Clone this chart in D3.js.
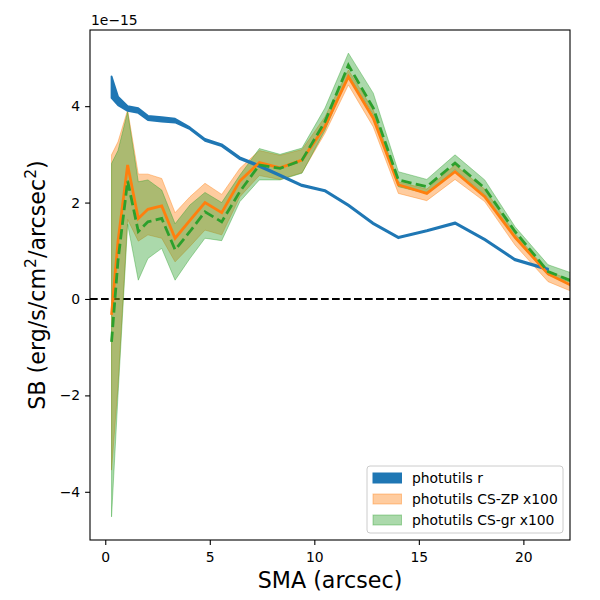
<!DOCTYPE html>
<html>
<head>
<meta charset="utf-8">
<script src="https://cdn.jsdelivr.net/npm/d3@7"></script>
<style>
  html, body { margin: 0; padding: 0; background: #fff; }
  svg { display: block; font-family: "DejaVu Sans", sans-serif; }
  .tick text { font-size: 13.9px; fill: #000; }
  .tick line { stroke: #000; stroke-width: 1.1; }
</style>
</head>
<body>
<svg id="chart" width="600" height="600"></svg>
<script>
// --- Data (SB in units of 1e-15) ---
const sma = [0.30, 0.61, 1.07, 1.58, 2.04, 2.70, 3.34, 4.05, 4.77, 5.57, 6.44, 7.37, 8.36, 9.41, 10.51, 11.63, 12.82, 14.02, 15.38, 16.73, 18.15, 19.60, 21.18, 22.90];

// photutils r (no point at the last sma)
const rLower = [4.17, 4.02, 3.90, 3.86, 3.71, 3.68, 3.66, 3.52, 3.28, 3.17, 2.90, 2.74, 2.55, 2.34, 2.23, 1.93, 1.55, 1.26, 1.40, 1.56, 1.22, 0.80, 0.60, null];
const rUpper = [4.62, 4.20, 4.00, 3.96, 3.80, 3.77, 3.74, 3.56, 3.32, 3.21, 2.94, 2.78, 2.58, 2.37, 2.26, 1.96, 1.58, 1.29, 1.43, 1.59, 1.25, 0.83, 0.63, null];

// photutils CS-ZP x100
const zpMid   = [-0.33, 1.20, 2.78, 1.67, 1.86, 1.93, 1.26, 1.63, 2.00, 1.79, 2.45, 2.83, 2.72, 2.88, 3.58, 4.61, 3.75, 2.37, 2.19, 2.64, 2.12, 1.28, 0.52, 0.15];
const zpUpper = [2.99, 3.26, 3.92, 2.59, 2.59, 2.50, 1.79, 2.12, 2.40, 2.17, 2.71, 3.08, 2.98, 3.10, 3.78, 4.75, 3.92, 2.43, 2.28, 2.78, 2.28, 1.36, 0.57, 0.30];
const zpLower = [-3.55, -1.80, 1.65, 1.20, 1.33, 1.26, 0.77, 1.09, 1.43, 1.33, 2.12, 2.56, 2.48, 2.62, 3.44, 4.44, 3.57, 2.19, 2.04, 2.48, 2.02, 1.12, 0.36, 0.05];

// photutils CS-gr x100
const grMid   = [-0.89, 0.80, 2.45, 1.40, 1.60, 1.67, 1.02, 1.40, 1.81, 1.60, 2.23, 2.78, 2.71, 2.88, 3.68, 4.85, 3.96, 2.47, 2.33, 2.82, 2.30, 1.40, 0.57, 0.27];
const grUpper = [2.81, 3.08, 3.88, 2.43, 2.47, 2.26, 1.56, 1.95, 2.21, 2.00, 2.57, 3.12, 3.00, 3.13, 3.96, 5.10, 4.27, 2.64, 2.48, 2.99, 2.47, 1.50, 0.71, 0.45];
const grLower = [-4.52, -2.00, 1.55, 0.39, 0.84, 1.05, 0.39, 0.84, 1.26, 1.21, 2.02, 2.47, 2.47, 2.61, 3.50, 4.65, 3.82, 2.33, 2.19, 2.68, 2.16, 1.26, 0.50, 0.25];

const xTicks = [0, 5, 10, 15, 20];
const yTicks = [-4, -2, 0, 2, 4];
const legendLabels = ["photutils r", "photutils CS-ZP x100", "photutils CS-gr x100"];

function drawChart() {
    // 1. Setup
    const svg = d3.select("#chart");
    const left = 90, right = 570, top = 30, bottom = 540;

    // 2. Scales
    const x = d3.scaleLinear().domain([-0.73, 22.23]).range([left, right]);
    const y = d3.scaleLinear().domain([-5.0, 5.58]).range([bottom, top]);

    svg.append("defs").append("clipPath").attr("id", "plot-clip")
        .append("rect").attr("x", left).attr("y", top).attr("width", right - left).attr("height", bottom - top);
    const plot = svg.append("g").attr("clip-path", "url(#plot-clip)");

    const rows = sma.map((s, i) => ({
        s, rLo: rLower[i], rHi: rUpper[i],
        zp: zpMid[i], zpLo: zpLower[i], zpHi: zpUpper[i],
        gr: grMid[i], grLo: grLower[i], grHi: grUpper[i]
    }));

    // 3. Zero line
    plot.append("line")
        .attr("x1", left).attr("x2", right).attr("y1", y(0)).attr("y2", y(0))
        .attr("stroke", "#000").attr("stroke-width", 2.08).attr("stroke-dasharray", "7.7,3.3");

    // 4. Bands
    const band = (lo, hi) => d3.area().x(d => x(d.s)).y0(d => y(d[lo])).y1(d => y(d[hi]));
    plot.append("path").datum(rows)
        .attr("d", band("zpLo", "zpHi"))
        .attr("fill", "#ff7f0e").attr("fill-opacity", 0.4)
        .attr("stroke", "#ff7f0e").attr("stroke-opacity", 0.4).attr("stroke-width", 1);
    plot.append("path").datum(rows)
        .attr("d", band("grLo", "grHi"))
        .attr("fill", "#2ca02c").attr("fill-opacity", 0.4)
        .attr("stroke", "#2ca02c").attr("stroke-opacity", 0.4).attr("stroke-width", 1);
    plot.append("path").datum(rows)
        .attr("d", band("rLo", "rHi").defined(d => d.rLo !== null))
        .attr("fill", "#1f77b4").attr("stroke", "#1f77b4").attr("stroke-width", 1.8)
        .attr("stroke-linejoin", "round");

    // 5. Lines
    plot.append("path").datum(rows)
        .attr("d", d3.line().x(d => x(d.s)).y(d => y(d.zp)))
        .attr("fill", "none").attr("stroke", "#ff7f0e").attr("stroke-width", 2.78);
    plot.append("path").datum(rows)
        .attr("d", d3.line().x(d => x(d.s)).y(d => y(d.gr)))
        .attr("fill", "none").attr("stroke", "#2ca02c").attr("stroke-width", 2.78)
        .attr("stroke-dasharray", "10.3,4.4");

    // 6. Axes
    const xAxis = svg.append("g").attr("transform", `translate(0,${bottom})`)
        .call(d3.axisBottom(x).tickValues(xTicks).tickFormat(d3.format("d")).tickSize(4.9).tickPadding(4.9));
    const yAxis = svg.append("g").attr("transform", `translate(${left},0)`)
        .call(d3.axisLeft(y).tickValues(yTicks).tickFormat(d3.format("d")).tickSize(4.9).tickPadding(4.9));
    xAxis.select(".domain").remove();
    yAxis.select(".domain").remove();
    xAxis.selectAll(".tick text").attr("font-family", "DejaVu Sans").attr("dy", "0.85em");
    yAxis.selectAll(".tick text").attr("font-family", "DejaVu Sans");

    svg.append("rect")
        .attr("x", left).attr("y", top).attr("width", right - left).attr("height", bottom - top)
        .attr("fill", "none").attr("stroke", "#000").attr("stroke-width", 1.1);

    // offset text
    svg.append("text").attr("x", left + 1).attr("y", 25)
        .attr("font-size", 13.9).text("1e\u221215");

    // 7. Axis labels
    svg.append("text").attr("x", (left + right) / 2).attr("y", 588)
        .attr("text-anchor", "middle").attr("font-size", 22.2).text("SMA (arcsec)");

    const yl = svg.append("text")
        .attr("transform", `translate(45,${(top + bottom) / 2}) rotate(-90)`)
        .attr("text-anchor", "middle").attr("font-size", 22.2);
    yl.append("tspan").text("SB (erg/s/cm");
    yl.append("tspan").attr("font-size", 15.5).attr("dy", -9).text("2");
    yl.append("tspan").attr("dy", 9).text("/arcsec");
    yl.append("tspan").attr("font-size", 15.5).attr("dy", -9).text("2");
    yl.append("tspan").attr("dy", 9).text(")");

    // 8. Legend
    const lg = svg.append("g");
    lg.append("rect").attr("x", 367).attr("y", 466).attr("width", 196).attr("height", 67)
        .attr("rx", 3).attr("fill", "#fff").attr("fill-opacity", 0.8)
        .attr("stroke", "#ccc").attr("stroke-width", 1);
    const swatches = [
        { fill: "#1f77b4", op: 1 },
        { fill: "#ff7f0e", op: 0.4 },
        { fill: "#2ca02c", op: 0.4 }
    ];
    legendLabels.forEach((label, i) => {
        const cy = 478 + i * 21;
        lg.append("rect").attr("x", 373).attr("y", cy - 5).attr("width", 28.5).attr("height", 10)
            .attr("fill", swatches[i].fill).attr("fill-opacity", swatches[i].op)
            .attr("stroke", swatches[i].fill).attr("stroke-opacity", swatches[i].op);
        lg.append("text").attr("x", 412).attr("y", cy).attr("dy", "0.35em")
            .attr("font-size", 13.9).text(label);
    });
}

drawChart();
</script>
</body>
</html>
